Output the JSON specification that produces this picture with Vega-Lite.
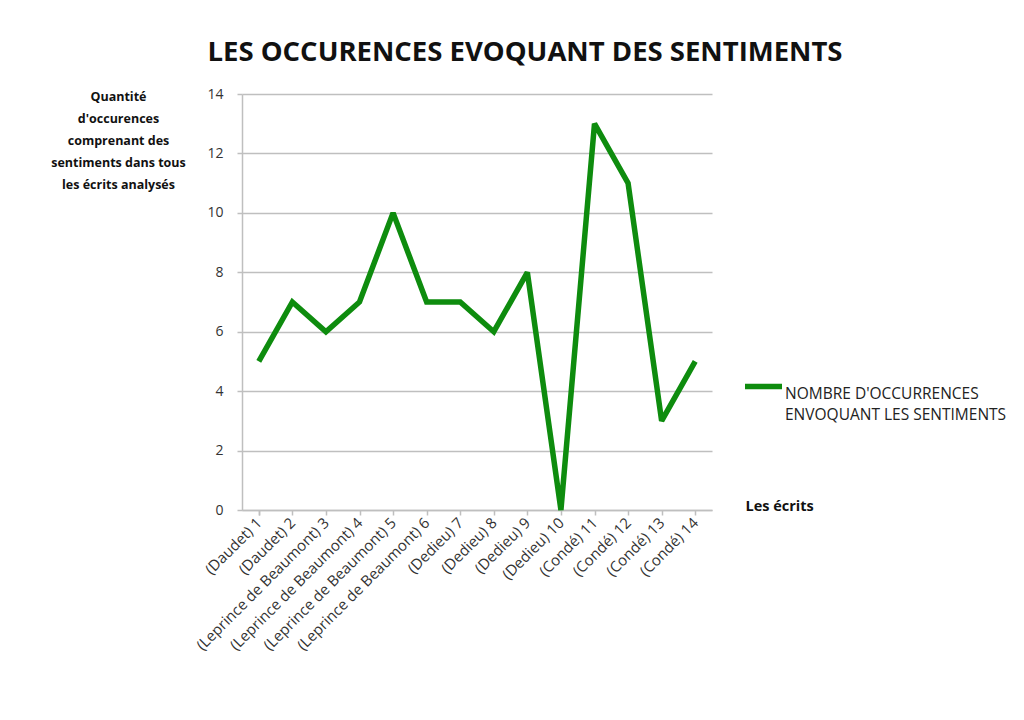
{
  "$schema": "https://vega.github.io/schema/vega-lite/v6.json",
  "width": 470,
  "height": 416,
  "autosize": {"type": "none"},
  "padding": {"left": 242, "top": 94, "right": 312, "bottom": 210},
  "background": "white",
  "title": {
    "text": "LES OCCURENCES EVOQUANT DES SENTIMENTS",
    "font": "Open Sans",
    "fontSize": 27.5,
    "fontWeight": "bold",
    "color": "#111111",
    "anchor": "middle",
    "dx": 48,
    "offset": 21
  },
  "data": {
    "values": [
      {"ecrit": "(Daudet) 1", "n": 5, "serie": "NOMBRE D'OCCURRENCES ENVOQUANT LES SENTIMENTS"},
      {"ecrit": "(Daudet) 2", "n": 7, "serie": "NOMBRE D'OCCURRENCES ENVOQUANT LES SENTIMENTS"},
      {"ecrit": "(Leprince de Beaumont) 3", "n": 6, "serie": "NOMBRE D'OCCURRENCES ENVOQUANT LES SENTIMENTS"},
      {"ecrit": "(Leprince de Beaumont) 4", "n": 7, "serie": "NOMBRE D'OCCURRENCES ENVOQUANT LES SENTIMENTS"},
      {"ecrit": "(Leprince de Beaumont) 5", "n": 10, "serie": "NOMBRE D'OCCURRENCES ENVOQUANT LES SENTIMENTS"},
      {"ecrit": "(Leprince de Beaumont) 6", "n": 7, "serie": "NOMBRE D'OCCURRENCES ENVOQUANT LES SENTIMENTS"},
      {"ecrit": "(Dedieu) 7", "n": 7, "serie": "NOMBRE D'OCCURRENCES ENVOQUANT LES SENTIMENTS"},
      {"ecrit": "(Dedieu) 8", "n": 6, "serie": "NOMBRE D'OCCURRENCES ENVOQUANT LES SENTIMENTS"},
      {"ecrit": "(Dedieu) 9", "n": 8, "serie": "NOMBRE D'OCCURRENCES ENVOQUANT LES SENTIMENTS"},
      {"ecrit": "(Dedieu) 10", "n": 0, "serie": "NOMBRE D'OCCURRENCES ENVOQUANT LES SENTIMENTS"},
      {"ecrit": "(Condé) 11", "n": 13, "serie": "NOMBRE D'OCCURRENCES ENVOQUANT LES SENTIMENTS"},
      {"ecrit": "(Condé) 12", "n": 11, "serie": "NOMBRE D'OCCURRENCES ENVOQUANT LES SENTIMENTS"},
      {"ecrit": "(Condé) 13", "n": 3, "serie": "NOMBRE D'OCCURRENCES ENVOQUANT LES SENTIMENTS"},
      {"ecrit": "(Condé) 14", "n": 5, "serie": "NOMBRE D'OCCURRENCES ENVOQUANT LES SENTIMENTS"}
    ]
  },
  "mark": {"type": "line", "strokeWidth": 5.5, "strokeJoin": "miter", "strokeMiterLimit": 2.5, "clip": false},
  "encoding": {
    "x": {
      "field": "ecrit",
      "type": "nominal",
      "sort": null,
      "scale": {"type": "point", "padding": 0.5},
      "axis": {
        "title": "Les écrits",
        "titleFont": "Open Sans",
        "titleFontSize": 14.5,
        "titleFontWeight": "bold",
        "titleColor": "#111111",
        "titleAngle": 0,
        "titleAlign": "left",
        "titleBaseline": "middle",
        "titleX": 503,
        "titleY": -4,
        "labelAngle": -45,
        "labelAlign": "right",
        "labelBaseline": "middle",
        "labelFont": "Open Sans",
        "labelFontSize": 15,
        "labelColor": "#333333",
        "labelPadding": 5,
        "labelOverlap": false,
        "labelLimit": 300,
        "domainColor": "#bfbfbf",
        "domainWidth": 1.5,
        "tickColor": "#bfbfbf",
        "tickWidth": 1.5,
        "tickSize": 5,
        "tickBand": "extent",
        "grid": false
      }
    },
    "y": {
      "field": "n",
      "type": "quantitative",
      "scale": {"domain": [0, 14], "nice": false},
      "axis": {
        "values": [0, 2, 4, 6, 8, 10, 12, 14],
        "title": ["Quantité", "d'occurences", "comprenant des", "sentiments dans tous", "les écrits analysés"],
        "titleFont": "Open Sans",
        "titleFontSize": 12.5,
        "titleFontWeight": "bold",
        "titleColor": "#111111",
        "titleAngle": 0,
        "titleAlign": "center",
        "titleBaseline": "top",
        "titleLineHeight": 22,
        "titleX": -124,
        "titleY": -4,
        "labelFont": "Open Sans",
        "labelFontSize": 14,
        "labelColor": "#333333",
        "labelPadding": 14,
        "domainColor": "#bfbfbf",
        "domainWidth": 1.5,
        "tickColor": "#bfbfbf",
        "tickWidth": 1.5,
        "tickSize": 5,
        "gridColor": "#bfbfbf",
        "gridWidth": 1.5
      }
    },
    "color": {
      "field": "serie",
      "type": "nominal",
      "scale": {"range": ["#0e8c0e"]},
      "legend": {
        "title": null,
        "orient": "none",
        "legendX": 500,
        "legendY": 271,
        "symbolType": "stroke",
        "symbolSize": 1369,
        "symbolStrokeWidth": 5.5,
        "labelFont": "Open Sans",
        "labelFontSize": 15.5,
        "labelColor": "#222222",
        "labelOffset": 0,
        "labelLimit": 400,
        "labelBaseline": "top",
        "labelExpr": "['NOMBRE D\\'OCCURRENCES', 'ENVOQUANT LES SENTIMENTS']"
      }
    }
  },
  "config": {
    "view": {"stroke": null},
    "style": {"guide-label": {"lineHeight": 21}}
  }
}
